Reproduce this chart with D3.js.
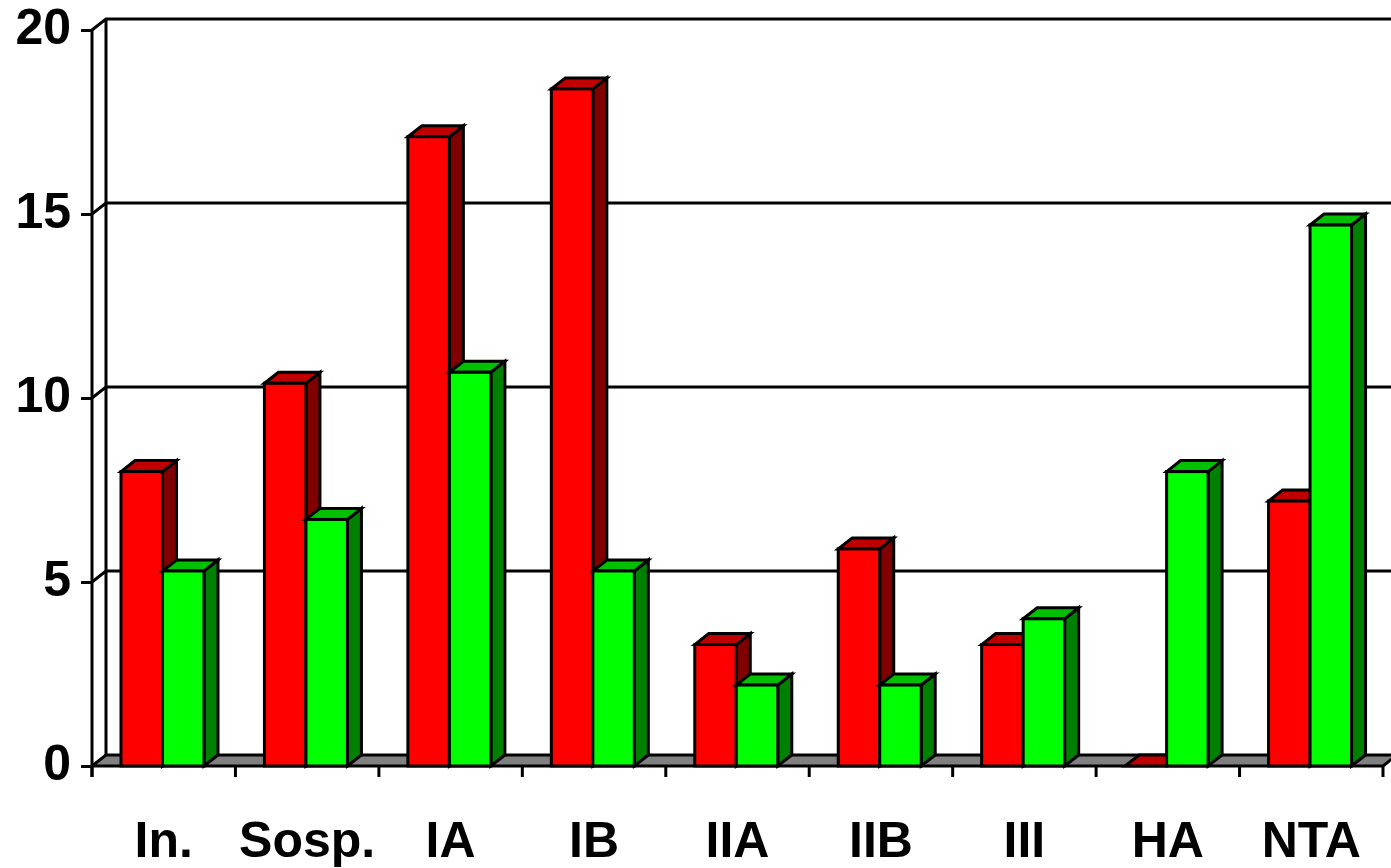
<!DOCTYPE html>
<html>
<head>
<meta charset="utf-8">
<script src="https://cdn.jsdelivr.net/npm/d3@7"></script>
<style>
  html, body { margin: 0; padding: 0; background: #ffffff; }
  svg { display: block; }
  text { font-family: "Liberation Sans", Arial, sans-serif; font-weight: bold; }
</style>
</head>
<body>
<svg id="chart" width="1391" height="868"></svg>
<script>
// Categories along the x axis
const categories = ["In.", "Sosp.", "IA", "IB", "IIA", "IIB", "III", "HA", "NTA"];
// Two series, drawn red (left) and green (right) in each group
const seriesRed = [8.0, 10.4, 17.1, 18.4, 3.3, 5.9, 3.3, 0, 7.2];
const seriesGreen = [5.3, 6.7, 10.7, 5.3, 2.2, 2.2, 4.0, 8.0, 14.7];
const seriesKeys = ["red", "green"];
// Value axis ticks
const yTicks = [0, 5, 10, 15, 20];

const palette = {
  red:   { front: "#ff0000", top: "#c00000", side: "#800000" },
  green: { front: "#00ff00", top: "#00c000", side: "#008000" }
};

const svg = d3.select("#chart");
const W = 1391, H = 868;
svg.append("rect").attr("width", W).attr("height", H).attr("fill", "#fff");

// Oblique depth of the 3D box
const DX = 14, DY = -11;
const left = 92, right = 1383;

const y = d3.scaleLinear().domain([0, 20]).range([766, 30]);
const x0 = d3.scaleBand().domain(categories).range([left, right]).paddingInner(0).paddingOuter(0);
const x1 = d3.scaleBand().domain(seriesKeys).range([29, 112]).padding(0);

const lineW = 3;
const g = svg.append("g");

// Back wall gridlines (with the left-wall diagonal)
yTicks.forEach(t => {
  if (t === 0) return;
  const yf = y(t);
  g.append("path")
    .attr("d", `M${left},${yf} L${left + DX},${yf + DY} L${W + 10},${yf + DY}`)
    .attr("fill", "none").attr("stroke", "#000").attr("stroke-width", 3);
});

// Back wall left edge
g.append("line")
  .attr("x1", left + DX).attr("y1", y(20) + DY)
  .attr("x2", left + DX).attr("y2", y(0) + DY)
  .attr("stroke", "#000").attr("stroke-width", lineW);

// Floor
g.append("path")
  .attr("d", `M${left},${y(0)} L${right},${y(0)} L${right + DX},${y(0) + DY} L${left + DX},${y(0) + DY} Z`)
  .attr("fill", "#808080").attr("stroke", "#000").attr("stroke-width", lineW)
  .attr("stroke-linejoin", "miter");

// Front edge of the left wall
g.append("line")
  .attr("x1", left).attr("y1", y(20))
  .attr("x2", left).attr("y2", y(0) + 11)
  .attr("stroke", "#000").attr("stroke-width", lineW);

// Category boundary ticks
const boundaries = d3.range(categories.length + 1).map(i => left + i * x0.step());
g.selectAll("line.xtick").data(boundaries).join("line")
  .attr("class", "xtick")
  .attr("x1", d => d).attr("x2", d => d)
  .attr("y1", y(0)).attr("y2", y(0) + 11)
  .attr("stroke", "#000").attr("stroke-width", lineW);

// 3D columns
const bars = [];
categories.forEach((c, i) => {
  bars.push({ cat: c, key: "red", value: seriesRed[i] });
  bars.push({ cat: c, key: "green", value: seriesGreen[i] });
});

const barG = g.append("g");
bars.forEach(b => {
  const x = x0(b.cat) + x1(b.key);
  const w = x1.bandwidth();
  const yt = y(b.value);
  const yb = y(0);
  const col = palette[b.key];
  const bg = barG.append("g")
    .attr("stroke", "#000").attr("stroke-width", lineW).attr("stroke-linejoin", "miter");
  // side face
  bg.append("path")
    .attr("d", `M${x + w},${yt} L${x + w + DX},${yt + DY} L${x + w + DX},${yb + DY} L${x + w},${yb} Z`)
    .attr("fill", col.side);
  // top face
  bg.append("path")
    .attr("d", `M${x},${yt} L${x + DX},${yt + DY} L${x + w + DX},${yt + DY} L${x + w},${yt} Z`)
    .attr("fill", col.top);
  // front face
  if (yb - yt > 0) {
    bg.append("rect")
      .attr("x", x).attr("y", yt)
      .attr("width", w).attr("height", yb - yt)
      .attr("fill", col.front);
  }
});

// Value axis
const yAxis = d3.axisLeft(y).tickValues(yTicks).tickSize(11).tickPadding(10).tickFormat(d3.format("d"));
const ya = svg.append("g").attr("transform", `translate(${left},0)`).call(yAxis);
ya.select(".domain").remove();
ya.selectAll(".tick line").attr("stroke", "#000").attr("stroke-width", lineW);
ya.selectAll(".tick text")
  .attr("fill", "#000")
  .attr("font-size", 50)
  .attr("font-family", "Liberation Sans, Arial, sans-serif")
  .attr("font-weight", "bold")
  .attr("dy", "0.27em");

// Category labels
const xAxis = d3.axisBottom(x0).tickSize(0).tickPadding(0);
const xa = svg.append("g").attr("transform", `translate(0,${y(0)})`).call(xAxis);
xa.select(".domain").remove();
xa.selectAll(".tick text")
  .attr("fill", "#000")
  .attr("font-size", 50)
  .attr("font-family", "Liberation Sans, Arial, sans-serif")
  .attr("font-weight", "bold")
  .attr("y", 91)
  .attr("dy", 0);
</script>
</body>
</html>
